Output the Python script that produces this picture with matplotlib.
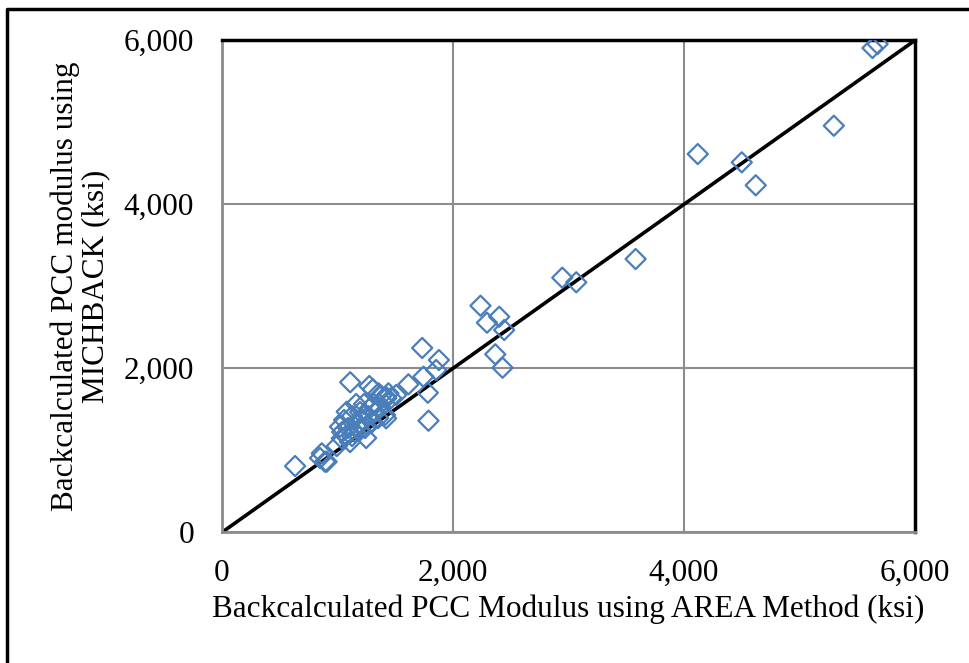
import matplotlib
matplotlib.use("Agg")
import matplotlib.pyplot as plt
from matplotlib.lines import Line2D
from matplotlib.ticker import FuncFormatter

# Backcalculated modulus values (ksi)
area_ksi = [5632, 5676, 5297, 4119, 4500, 4621, 3581, 2946, 3067,
            2238, 2400, 2294, 2443, 2366, 2429,
            1733, 1878, 1854, 1744, 1614, 1782, 1788,
            1110, 1276, 1306, 1355, 1441, 1421, 1378, 1421, 1464, 1508,
            1080, 1421, 1022, 1037, 994, 864, 892, 849, 906, 633,
            1057, 1092, 1126, 1152, 1178, 1196, 1213, 1239, 1265, 1282,
            1300, 1326, 1352, 1126, 1074, 1161, 1230, 1317, 1369, 1412,
            1109, 1040, 1248, 1196]
michback_ksi = [5906, 5955, 4958, 4613, 4512, 4232, 3333, 3105, 3049,
                2763, 2629, 2556, 2467, 2171, 2007,
                2248, 2101, 1979, 1898, 1805, 1702, 1361,
                1830, 1784, 1744, 1695, 1695, 1634, 1664, 1650, 1638, 1675,
                1471, 1390, 1288, 1146, 1052, 963, 861, 906, 861, 808,
                1370, 1272, 1418, 1223, 1321, 1467, 1370, 1272, 1418, 1516,
                1345, 1467, 1394, 1174, 1174, 1565, 1565, 1565, 1516, 1431,
                1101, 1223, 1150, 1248]
ticks = [0, 2000, 4000, 6000]

plt.rcParams["font.family"] = ["Liberation Serif", "DejaVu Serif"]

fig = plt.figure(figsize=(9.69, 6.63), dpi=100)
ax = fig.add_axes([0.2291, 0.1971, 0.7152, 0.7421])

ax.plot([0, 6000], [0, 6000], color="black", lw=2.6, zorder=2)
ax.scatter(area_ksi, michback_ksi, marker="D", s=105, facecolors="none",
           edgecolors="#4a7ebb", linewidths=1.6, zorder=3)

ax.set_xlim(0, 6000)
ax.set_ylim(0, 6000)
ax.set_xticks(ticks)
ax.set_yticks(ticks)
fmt = FuncFormatter(lambda v, p: f"{int(v):,}")
ax.xaxis.set_major_formatter(fmt)
ax.yaxis.set_major_formatter(fmt)
ax.tick_params(length=0, labelsize=22.5)
ax.tick_params(axis="x", pad=19)
ax.tick_params(axis="y", pad=20)
ax.grid(True, color="#8c8c8c", lw=1.5)
ax.set_axisbelow(True)

for side in ["left", "bottom"]:
    ax.spines[side].set_color("#8c8c8c")
    ax.spines[side].set_linewidth(2)
for side in ["top", "right"]:
    ax.spines[side].set_color("black")
    ax.spines[side].set_linewidth(2.5)

ax.set_xlabel("Backcalculated PCC Modulus using AREA Method (ksi)", fontsize=22.5, labelpad=5)
ax.set_ylabel("Backcalculated PCC modulus using\nMICHBACK (ksi)", fontsize=22.5,
              labelpad=10, linespacing=1.05)

# outer chart border (left and top visible)
bx, by = 7 / 969, 1 - 9 / 663
fig.add_artist(Line2D([bx, bx, 1.0], [0.0, by, by], transform=fig.transFigure,
                      color="black", lw=2.5))

fig.savefig("out.png", dpi=100)
